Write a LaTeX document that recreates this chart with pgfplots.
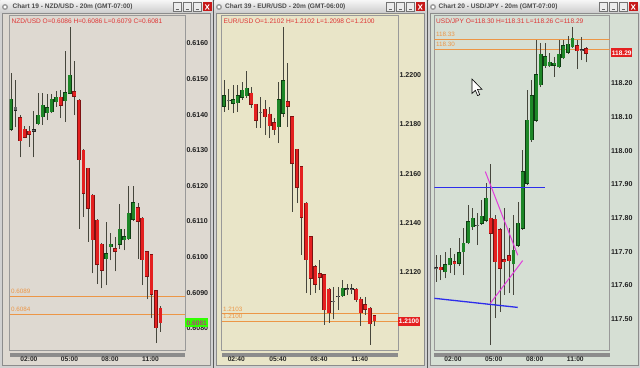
\documentclass[border=0pt]{standalone}
\usepackage{fontspec}
\setmainfont{Liberation Sans}
\usepackage{pgfplots}
\pgfplotsset{compat=1.18}
\definecolor{bgA}{RGB}{222,217,209}
\definecolor{bgB}{RGB}{233,229,200}
\definecolor{bgC}{RGB}{214,223,212}
\definecolor{cgreen}{RGB}{30,135,40}
\definecolor{cred}{RGB}{228,32,32}
\definecolor{orng}{RGB}{236,150,70}
\definecolor{hred}{RGB}{222,52,52}
\definecolor{tline}{RGB}{45,45,235}
\definecolor{tmag}{RGB}{225,60,220}
\definecolor{wickc}{RGB}{70,70,60}
\pgfplotsset{
  wk/.style={draw=wickc, line width=0.7bp, mark=none, forget plot},
  cout g/.style={draw=cgreen!45!black, line width=3.9bp, line cap=butt, mark=none, forget plot, shorten <=-0.5bp, shorten >=-0.5bp},
  cout r/.style={draw=cred!55!black, line width=3.9bp, line cap=butt, mark=none, forget plot, shorten <=-0.5bp, shorten >=-0.5bp},
  cout d/.style={draw=black!85, line width=3.9bp, line cap=butt, mark=none, forget plot, shorten <=-0.5bp, shorten >=-0.5bp},
  cbody g/.style={draw=cgreen, line width=2.9bp, line cap=butt, mark=none, forget plot},
  cbody r/.style={draw=cred, line width=2.9bp, line cap=butt, mark=none, forget plot},
  cbody d/.style={draw=black!60, line width=2.9bp, line cap=butt, mark=none, forget plot},
  chart/.style={
    scale only axis, anchor=south west, height=335bp,
    axis line style={draw=black!40, line width=0.6bp},
    tick style={draw=none}, major tick length=0pt,
    yticklabel pos=right,
    scaled y ticks=false, scaled x ticks=false,
    /pgf/number format/assume math mode=true,
    yticklabel style={font=\fontsize{7.1}{8}\selectfont\bfseries, text=black!88, anchor=west, inner sep=0pt, xshift=1.3bp},
    xticklabel style={font=\fontsize{6.7}{8}\selectfont\bfseries, text=black!85, anchor=north, inner sep=0pt, yshift=-7bp},
  },
}
\newcommand\candles[1]{%
  \foreach \ci/\co/\ch/\cl/\cc/\ck in {#1}{%
    \edef\tmp{%
      \noexpand\addplot[wk] coordinates {(\ci,\cl) (\ci,\ch)};%
      \noexpand\addplot[cout \ck] coordinates {(\ci,\co) (\ci,\cc)};%
      \noexpand\addplot[cbody \ck] coordinates {(\ci,\co) (\ci,\cc)};%
    }\tmp
  }%
}
\begin{document}
\begin{tikzpicture}
\useasboundingbox (0,0) rectangle (640bp,368bp);
% ---------- window chrome ----------
\begin{scope}[x=1bp, y=-1bp, shift={(0bp,368bp)}]
  \fill[black!65] (0,0) rectangle (640,368);
  \foreach \wx/\wr/\bg in {0/212.5/bgA, 214/426.5/bgB, 428/640/bgC}{
    \fill[black!18] (\wx,0) rectangle (\wr,368);
    \shade[top color=black!4, bottom color=black!20] (\wx+0.5,0.5) rectangle (\wr-0.5,13);
    \fill[\bg] (\wx+2.5,13.5) rectangle (\wr-2,365);
    \draw[black!45, line width=0.5bp] (\wx+2.5,13.5) rectangle (\wr-2,365);
    \fill[black!40] (\wx+5,7) circle (3);
    \fill[white] (\wx+5,7) circle (1.6);
  }
  % title texts
  \node[anchor=west, inner sep=0pt, font=\fontsize{6.6}{8}\selectfont\bfseries, text=black!70] at (12.5,7) {Chart 19 - NZD/USD - 20m (GMT-07:00)};
  \node[anchor=west, inner sep=0pt, font=\fontsize{6.6}{8}\selectfont\bfseries, text=black!70] at (225,7) {Chart 39 - EUR/USD - 20m (GMT-06:00)};
  \node[anchor=west, inner sep=0pt, font=\fontsize{6.6}{8}\selectfont\bfseries, text=black!70] at (438.5,7) {Chart 20 - USD/JPY - 20m (GMT-07:00)};
  % buttons
  \foreach \bx in {173,183,193,386,396,406,599,609,619}{
    \fill[black!8] (\bx,2.5) rectangle (\bx+8.5,11.5);
    \draw[black!55, line width=0.5bp] (\bx,2.5) rectangle (\bx+8.5,11.5);
    \draw[black!60, line width=0.6bp] (\bx+2.5,9) -- (\bx+6,9);
  }
  \foreach \bx in {203,416,629}{
    \fill[red!75!black!90] (\bx,2.5) rectangle (\bx+8.5,11.5);
    \draw[white, line width=0.9bp] (\bx+2.3,4.5) -- (\bx+6.2,9.5) (\bx+2.3,9.5) -- (\bx+6.2,4.5);
  }
  % scrollbar strips
  \foreach \sx/\sr in {9.5/185, 221.5/398, 434.3/609.7}{
    \fill[black!45] (\sx,353) rectangle (\sr,357);
  }
\end{scope}
% ---------- panel 1: NZD/USD ----------
\begin{axis}[chart, at={(9.5bp,18bp)}, width=175.5bp,
  xmin=-0.33, xmax=38.4, ymin=0.60739, ymax=0.61680,
  xtick={3.95,12.9,21.85,30.8}, xticklabels={02:00,05:00,08:00,11:00},
  ytick={0.608,0.609,0.610,0.611,0.612,0.613,0.614,0.615,0.616},
  yticklabel style={/pgf/number format/.cd, fixed, fixed zerofill, precision=4}]
\addplot[orng, line width=0.9bp, forget plot] coordinates {(-0.33,0.6089) (38.4,0.6089)};
\addplot[orng, line width=0.9bp, forget plot] coordinates {(-0.33,0.6084) (38.4,0.6084)};
\candles{0/0.61359/0.61518/0.61354/0.61443/g, 1/0.61413/0.61497/0.61365/0.61421/d,
2/0.61392/0.61399/0.61280/0.61327/r, 3/0.61359/0.61368/0.61334/0.61336/r,
4/0.61354/0.61368/0.61310/0.61345/r, 5/0.61354/0.61410/0.61280/0.61358/d,
6/0.61375/0.61460/0.61370/0.61399/g, 7/0.61394/0.61460/0.61371/0.61427/g,
8/0.61405/0.61457/0.61385/0.61420/g, 9/0.61408/0.61457/0.61404/0.61443/g,
10/0.61436/0.61467/0.61422/0.61449/g, 11/0.61449/0.61469/0.61390/0.61427/r,
12/0.61439/0.61580/0.61380/0.61462/g, 13/0.61460/0.61647/0.61458/0.61511/g,
14/0.61464/0.61551/0.61399/0.61452/r, 15/0.61441/0.61445/0.61080/0.61274/r,
16/0.61300/0.61303/0.61113/0.61179/r, 17/0.61249/0.61250/0.61043/0.61137/r,
18/0.61174/0.61177/0.60954/0.61048/r, 19/0.61104/0.61107/0.60924/0.60980/r,
20/0.61036/0.61039/0.60912/0.60963/r, 21/0.60996/0.61099/0.60921/0.61010/g,
22/0.61029/0.61068/0.60991/0.61036/g, 23/0.61024/0.61057/0.60960/0.61017/r,
24/0.61036/0.61148/0.61024/0.61078/g, 25/0.61048/0.61080/0.61019/0.61057/g,
26/0.61052/0.61199/0.61048/0.61123/g, 27/0.61106/0.61199/0.61101/0.61152/g,
28/0.61138/0.61152/0.60996/0.61101/r, 29/0.61109/0.61112/0.60921/0.60993/r,
30/0.61015/0.61017/0.60881/0.60946/r, 31/0.61007/0.61010/0.60828/0.60896/r,
32/0.60905/0.60907/0.60758/0.60801/r, 33/0.60856/0.60862/0.60790/0.60815/r}
\end{axis}
% ---------- panel 2: EUR/USD ----------
\begin{axis}[chart, at={(221.5bp,18bp)}, width=176.5bp,
  xmin=-0.55, xmax=38.16, ymin=1.20883, ymax=1.22245,
  xtick={2.7,11.84,20.83,29.76}, xticklabels={02:40,05:40,08:40,11:40},
  ytick={1.212,1.214,1.216,1.218,1.220},
  yticklabel style={/pgf/number format/.cd, fixed, fixed zerofill, precision=4}]
\addplot[orng, line width=0.9bp, forget plot] coordinates {(-0.55,1.2103) (38.16,1.2103)};
\addplot[orng, line width=0.9bp, forget plot] coordinates {(-0.55,1.2100) (38.16,1.2100)};
\candles{0/1.21875/1.21981/1.21852/1.21917/g, 1/1.21896/1.21943/1.21859/1.21898/d,
2/1.21886/1.21961/1.21846/1.21900/g, 3/1.21889/1.21961/1.21852/1.21916/g,
4/1.21911/1.21974/1.21900/1.21940/g, 5/1.21917/1.22019/1.21908/1.21947/g,
6/1.21927/1.21951/1.21867/1.21883/r, 7/1.21882/1.21883/1.21785/1.21818/r,
8/1.21848/1.21911/1.21786/1.21850/d, 9/1.21862/1.21900/1.21757/1.21832/r,
10/1.21842/1.21872/1.21744/1.21794/r, 11/1.21807/1.21826/1.21757/1.21778/r,
12/1.21791/1.21974/1.21724/1.21900/g, 13/1.21846/1.22198/1.21832/1.21977/g,
14/1.21893/1.22051/1.21790/1.21875/r, 15/1.21832/1.21835/1.21446/1.21642/r,
16/1.21699/1.21702/1.21480/1.21545/r, 17/1.21628/1.21631/1.21270/1.21423/r,
18/1.21480/1.21483/1.21114/1.21249/r, 19/1.21344/1.21347/1.21107/1.21175/r,
20/1.21222/1.21229/1.21114/1.21150/r, 21/1.21192/1.21249/1.21127/1.21179/r,
22/1.21188/1.21192/1.20985/1.21046/r, 23/1.21130/1.21135/1.20994/1.21035/r,
24/1.21080/1.21141/1.21008/1.21082/d, 25/1.21100/1.21141/1.21046/1.21102/d,
26/1.21104/1.21168/1.21099/1.21134/g, 27/1.21130/1.21150/1.21107/1.21132/d,
28/1.21130/1.21150/1.21111/1.21133/d, 29/1.21130/1.21135/1.21079/1.21087/r,
30/1.21089/1.21100/1.20981/1.21035/r, 31/1.21066/1.21098/1.21026/1.21049/r,
32/1.21053/1.21059/1.20904/1.20989/r, 33/1.21022/1.21026/1.20981/1.21001/r}
\end{axis}
% ---------- panel 3: USD/JPY ----------
\begin{axis}[chart, at={(434.3bp,18bp)}, width=175.4bp,
  xmin=-0.44, xmax=38.19, ymin=117.4086, ymax=118.4027,
  xtick={3.68,12.64,21.67,30.62}, xticklabels={02:00,05:00,08:00,11:00},
  ytick={117.5,117.6,117.7,117.8,117.9,118.0,118.1,118.2},
  yticklabel style={/pgf/number format/.cd, fixed, fixed zerofill, precision=2}]
\addplot[orng, line width=0.9bp, forget plot] coordinates {(-0.44,118.33) (38.19,118.33)};
\addplot[orng, line width=0.9bp, forget plot] coordinates {(-0.44,118.30) (38.19,118.30)};
\candles{0/117.651/117.691/117.611/117.653/d, 1/117.654/117.691/117.616/117.646/r,
2/117.641/117.700/117.621/117.661/g, 3/117.661/117.710/117.636/117.681/g,
4/117.671/117.694/117.631/117.664/r, 5/117.666/117.740/117.658/117.697/g,
6/117.700/117.770/117.631/117.725/g, 7/117.727/117.839/117.723/117.789/g,
8/117.774/117.829/117.765/117.799/g, 9/117.777/117.815/117.720/117.779/d,
10/117.785/117.854/117.780/117.806/g, 11/117.794/117.903/117.788/117.859/g,
12/117.800/117.961/117.423/117.755/r, 13/117.796/117.809/117.503/117.671/r,
14/117.765/117.771/117.522/117.651/r, 15/117.676/117.829/117.572/117.671/r,
16/117.688/117.770/117.577/117.674/r, 17/117.664/117.809/117.572/117.705/g,
18/117.720/117.849/117.714/117.785/g, 19/117.770/118.002/117.765/117.938/g,
20/117.903/118.180/117.898/118.091/g, 21/118.032/118.210/118.026/118.163/g,
22/118.091/118.329/118.085/118.225/g, 23/118.195/118.319/118.189/118.286/g,
24/118.252/118.319/118.245/118.279/g, 25/118.252/118.289/118.248/118.262/g,
26/118.254/118.279/118.220/118.260/g, 27/118.249/118.329/118.245/118.286/g,
28/118.276/118.329/118.272/118.312/g, 29/118.292/118.341/118.287/118.316/g,
30/118.309/118.368/118.305/118.334/g, 31/118.312/118.329/118.242/118.296/r,
32/118.299/118.338/118.269/118.297/d, 33/118.302/118.309/118.262/118.289/r}
\addplot[tline, line width=1.3bp, forget plot] coordinates {(-0.44,117.890) (24.0,117.890)};
\addplot[tline, line width=1.3bp, forget plot] coordinates {(-0.44,117.562) (17.93,117.535)};
\addplot[tmag, line width=1bp, forget plot] coordinates {(10.79,117.938) (17.93,117.690)};
\addplot[tmag, line width=1bp, forget plot] coordinates {(11.89,117.547) (19.03,117.674)};
\end{axis}
% ---------- overlays ----------
\begin{scope}[x=1bp, y=-1bp, shift={(0bp,368bp)}]
  % headers
  \node[anchor=west, inner sep=0pt, font=\fontsize{6.6}{8}\selectfont, text=hred] at (11.5,20.7) {NZD/USD O=0.6086 H=0.6086 L=0.6079 C=0.6081};
  \node[anchor=west, inner sep=0pt, font=\fontsize{6.6}{8}\selectfont, text=hred] at (223.5,20.7) {EUR/USD O=1.2102 H=1.2102 L=1.2098 C=1.2100};
  \node[anchor=west, inner sep=0pt, font=\fontsize{6.6}{8}\selectfont, text=hred] at (436,20.7) {USD/JPY O=118.30 H=118.31 L=118.26 C=118.29};
  % level labels
  \foreach \lx/\ly/\lt in {11/291.7/0.6089, 11/309.7/0.6084, 223/309.6/1.2103, 223/316.8/1.2100, 436/34.7/118.33, 436/44.2/118.30}{
    \node[anchor=west, inner sep=0pt, font=\fontsize{6.3}{7}\selectfont, text=orng] at (\lx,\ly) {\lt};
  }
  % price boxes
  \fill[green!75!lime] (185.3,318.3) rectangle (208.3,327.3);
  \node[inner sep=0pt, font=\fontsize{6.6}{7}\selectfont\bfseries, text=magenta!70!black] at (196.8,322.8) {0.6081};
  \fill[cred] (398.3,316.7) rectangle (419.7,325.7);
  \node[inner sep=0pt, font=\fontsize{6.6}{7}\selectfont\bfseries, text=white] at (409,321.2) {1.2100};
  \fill[cred] (611.3,48.3) rectangle (632,57.3);
  \node[inner sep=0pt, font=\fontsize{6.6}{7}\selectfont\bfseries, text=white] at (621.7,52.8) {118.29};
  % mouse cursor
  \filldraw[fill=white, draw=black, line width=0.6bp, line join=miter]
    (472,79) -- (472,93.5) -- (475.4,90.3) -- (477.6,95.6) -- (479.7,94.7) -- (477.5,89.4) -- (482,89.4) -- cycle;
\end{scope}
\end{tikzpicture}
\end{document}
